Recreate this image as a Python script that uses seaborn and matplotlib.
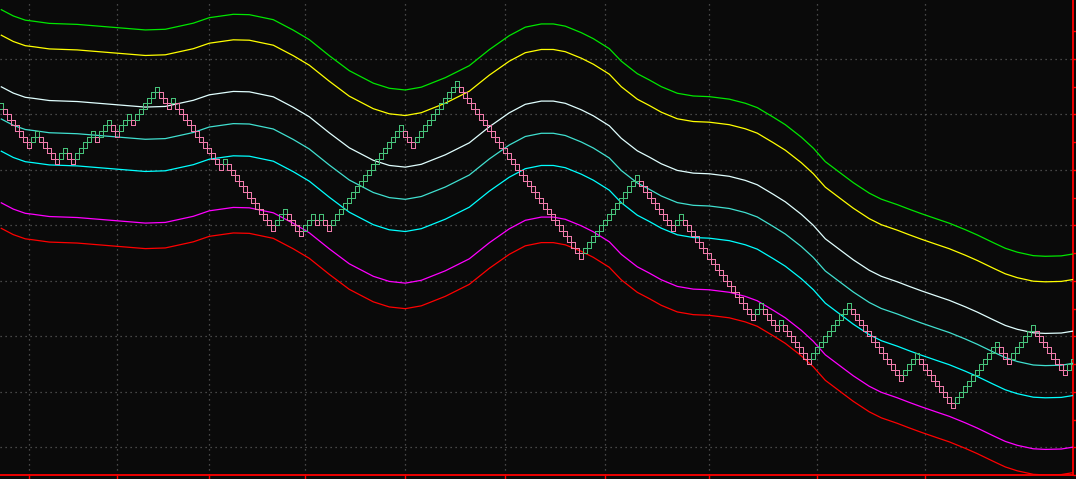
import numpy as np
import pandas as pd
import matplotlib
matplotlib.use("Agg")
import matplotlib.pyplot as plt
from matplotlib.ticker import FixedLocator, NullFormatter
import seaborn as sns

# ---------------- data ----------------
# Renko brick runs: +n = n rising (green) bricks, -n = n falling (pink) bricks
brick_runs = [1, -7, 2, -5, 2, -2, 5, -1, 3, -2, 3, -1, 6, -3, 1,
              -12, 1, -12, 3, -4, 3, -1, 1, -2, 18, -3, 11, -31, 14,
              -9, 2, -18, 2, -4, 1, -7, 10, -13, 4, -9, 11, -3, 6, -8, 2]
start_price = 100.0   # bottom of the brick before the first visible one
brick_size = 1.0

# Centre line of the band set (brick index, price)
center_idx = [0, 3, 6, 8, 12, 19, 29, 36, 41, 48,
              52, 58, 62, 68, 73, 77, 82, 87, 93, 97,
              101, 105, 111, 117, 122, 127, 131, 135, 138, 141,
              145, 148, 152, 155, 159, 162, 165, 169, 173, 177,
              182, 186, 189, 193, 196, 200, 203, 206, 210, 213,
              217, 220, 224, 227, 230, 234, 237, 241, 244, 248,
              251, 254, 258, 261, 265, 268]
center_val = [99.15, 98.02, 97.26, 97.08, 96.68, 96.50, 95.91, 95.50, 95.62, 96.72,
              97.71, 98.32, 98.25, 97.35, 95.46, 93.75, 90.86, 88.16, 85.91, 84.99,
              84.68, 85.19, 86.90, 89.06, 91.95, 94.47, 96.00, 96.58, 96.58, 96.18,
              95.01, 93.93, 92.13, 89.87, 87.62, 86.49, 85.28, 84.09, 83.60, 83.48,
              83.03, 82.29, 81.50, 79.78, 78.43, 76.18, 74.20, 71.77, 69.60, 67.98,
              66.09, 65.01, 64.02, 63.19, 62.40, 61.41, 60.68, 59.51, 58.56, 57.17,
              56.16, 55.46, 54.83, 54.72, 54.79, 55.14]

# Band offsets from the centre line (price units)
band_names = ["upper3", "upper2", "upper1", "mid", "lower1", "lower2", "lower3"]
band_offsets = [19.7, 15.1, 5.8, 0.0, -5.8, -15.1, -19.7]
band_colors = ["#00e600", "#ffff00", "#e0ffff", "#40e0d0", "#00ffff", "#ff00ff", "#ff0000"]

# Grid positions
xgrid_bricks = [7, 29, 52, 76, 101, 126, 151, 177, 204, 231]
ygrid_major = [40, 50, 60, 70, 80, 90, 100, 110]
ygrid_minor = [35, 45, 55, 65, 75, 85, 95, 105, 115]

# ---------------- build bricks ----------------
steps = []
for r in brick_runs:
    steps += [np.sign(r)] * abs(r)
steps = np.array(steps, dtype=float)
bottoms = start_price + np.cumsum(steps) * brick_size
brick_x = np.arange(len(steps))
brick_col = np.where(steps > 0, "#46c27a", "#f07cac")

# ---------------- figure ----------------
W, H = 1076, 479
fig = plt.figure(figsize=(W / 100, H / 100), dpi=100)
fig.patch.set_facecolor("#0a0a0a")
ax_bottom_px = 475.3
ax_right_px = 1073.3
ax = fig.add_axes([0, (H - ax_bottom_px) / H, ax_right_px / W, ax_bottom_px / H])
ax.set_facecolor("#0a0a0a")

rows = []
for name, off in zip(band_names, band_offsets):
    for i, v in zip(center_idx, center_val):
        rows.append({"x": i + 0.5, "price": v + off, "band": name})
df = pd.DataFrame(rows)
sns.lineplot(data=df, x="x", y="price", hue="band",
             palette=dict(zip(band_names, band_colors)),
             hue_order=band_names, linewidth=0.9, legend=False, ax=ax,
             zorder=3, estimator=None, sort=True)

bars = ax.bar(brick_x, np.full(len(steps), brick_size), bottom=bottoms, width=1.0,
              align="edge", fill=False, edgecolor=brick_col, linewidth=0.72, zorder=4)
for b in bars:
    b.set_antialiased(False)

# limits (pixel mapping from the reference)
ax.set_xlim(0.175, (ax_right_px + 0.7) / 4)
ppu = 5.55
ax.set_ylim(100 - (ax_bottom_px - 114.3) / ppu, 100 + 114.3 / ppu)

# grid and ticks
ax.xaxis.set_major_locator(FixedLocator([b + 0.5 for b in xgrid_bricks]))
ax.yaxis.set_major_locator(FixedLocator(ygrid_major))
ax.yaxis.set_minor_locator(FixedLocator(ygrid_minor))
ax.xaxis.set_major_formatter(NullFormatter())
ax.yaxis.set_major_formatter(NullFormatter())
ax.yaxis.tick_right()
ax.tick_params(axis="both", which="both", direction="out", colors="#ff0000",
               length=4, width=1.0)
ax.grid(True, which="major", color="#5c5c5c", linestyle=(0, (1, 3)), linewidth=0.9)
ax.set_xlabel("")
ax.set_ylabel("")

for s in ["left", "top"]:
    ax.spines[s].set_visible(False)
for s in ["bottom", "right"]:
    ax.spines[s].set_color("#ff0000")
    ax.spines[s].set_linewidth(1.3)

fig.savefig("out.png", dpi=100, facecolor=fig.get_facecolor())
